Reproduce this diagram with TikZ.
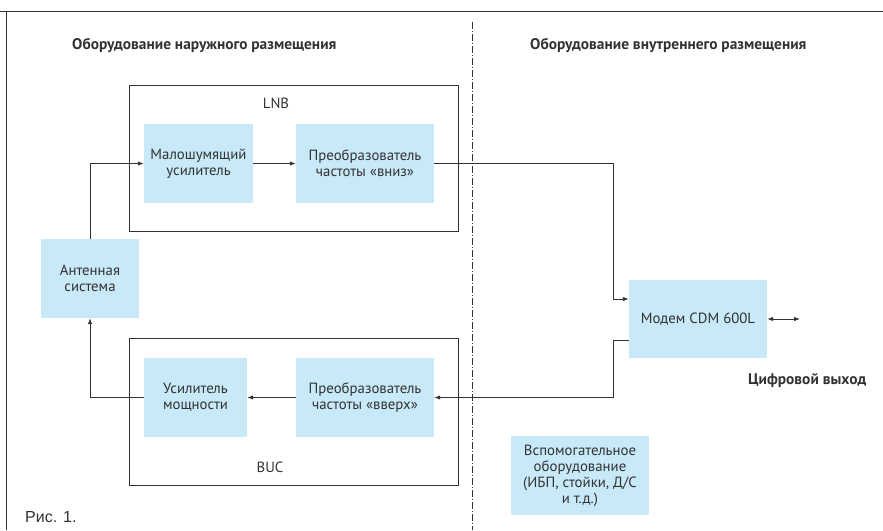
\documentclass[tikz,border=0pt]{standalone}
\usepackage{fontspec}
\setmainfont{PT Sans}
\newfontfamily\capfont{Liberation Sans}
\usetikzlibrary{arrows.meta}
\definecolor{boxblue}{RGB}{200,233,248}
\definecolor{linegray}{RGB}{50,50,50}
\tikzset{
  blk/.style={fill=boxblue,draw=none,inner sep=0pt,align=center,font=\fontsize{14.8}{16}\selectfont,text=linegray},
  frame/.style={draw=linegray,line width=0.9pt,fill=none},
  conn/.style={draw=linegray,line width=0.9pt},
  arr/.style={conn,-{Latex[length=6pt,width=4.5pt]}},
  title/.style={font=\bfseries\fontsize{15.4}{17}\selectfont,text=linegray,inner sep=0pt},
  lbl/.style={font=\fontsize{14.8}{16}\selectfont,text=linegray,inner sep=0pt}
}
\begin{document}
\begin{tikzpicture}[x=1pt,y=-1pt]
\useasboundingbox (0,0) rectangle (883,530);
% outer frame lines
\draw[conn] (0,11) -- (883,11);
\draw[conn] (6,11) -- (6,530);
% divider
\draw[linegray,line width=0.9pt,dash pattern=on 7pt off 2pt on 1pt off 2pt] (472,22) -- (472,530);
% titles
\node[title,anchor=west] (t1) at (72,45) {Оборудование наружного размещения};
\node[title,anchor=west] (t2) at (530,45) {Оборудование внутреннего размещения};
% LNB
\draw[frame] (129,85) rectangle (458,231);
\node[lbl] (lnb) at (276,103) {LNB};
\node[blk,minimum width=109pt,minimum height=79pt] (lna) at (198.5,163.5) {Малошумящий\\усилитель};
\node[blk,minimum width=138pt,minimum height=79pt] (down) at (365,163.5) {Преобразователь\\частоты «вниз»};
% BUC
\draw[frame] (129,338) rectangle (458,485);
\node[lbl] (buc) at (270,467) {BUC};
\node[blk,minimum width=103pt,minimum height=79pt] (pa) at (195.5,397.5) {Усилитель\\мощности};
\node[blk,minimum width=138pt,minimum height=79pt] (up) at (365,397.5) {Преобразователь\\частоты «вверх»};
% antenna
\node[blk,minimum width=98pt,minimum height=79pt] (ant) at (90,278.5) {Антенная\\система};
% modem
\node[blk,minimum width=138pt,minimum height=78pt] (modem) at (698,319) {Модем CDM 600L};
\coordinate (dout) at (800,319);
\node[title,anchor=west] (dlabel) at (748,381) {Цифровой выход};
% aux
\node[blk,minimum width=138pt,minimum height=79pt] (aux) at (580,475.5) {Вспомогательное\\оборудование\\(ИБП, стойки, Д/С\\и т.д.)};
% caption
\node[anchor=west,inner sep=0pt,font=\capfont\fontsize{16}{18}\selectfont,text=linegray] (cap) at (25,517) {Рис. 1.};
% connectors
\draw[arr] (ant.north) |- (lna.west);
\draw[arr] (lna.east) -- (down.west);
\draw[arr] (down.east) -- (613,163.5) |- ([yshift=20pt]modem.west);
\draw[arr] ([yshift=-21pt]modem.west) -- (613,340) |- (up.east);
\draw[arr] (up.west) -- (pa.west -| pa.east);
\draw[arr] (pa.west) -| (ant.south);
\draw[conn,{Latex[length=6pt,width=4.5pt]}-{Latex[length=6pt,width=4.5pt]}] (modem.east) -- (dout);
\end{tikzpicture}
\end{document}
